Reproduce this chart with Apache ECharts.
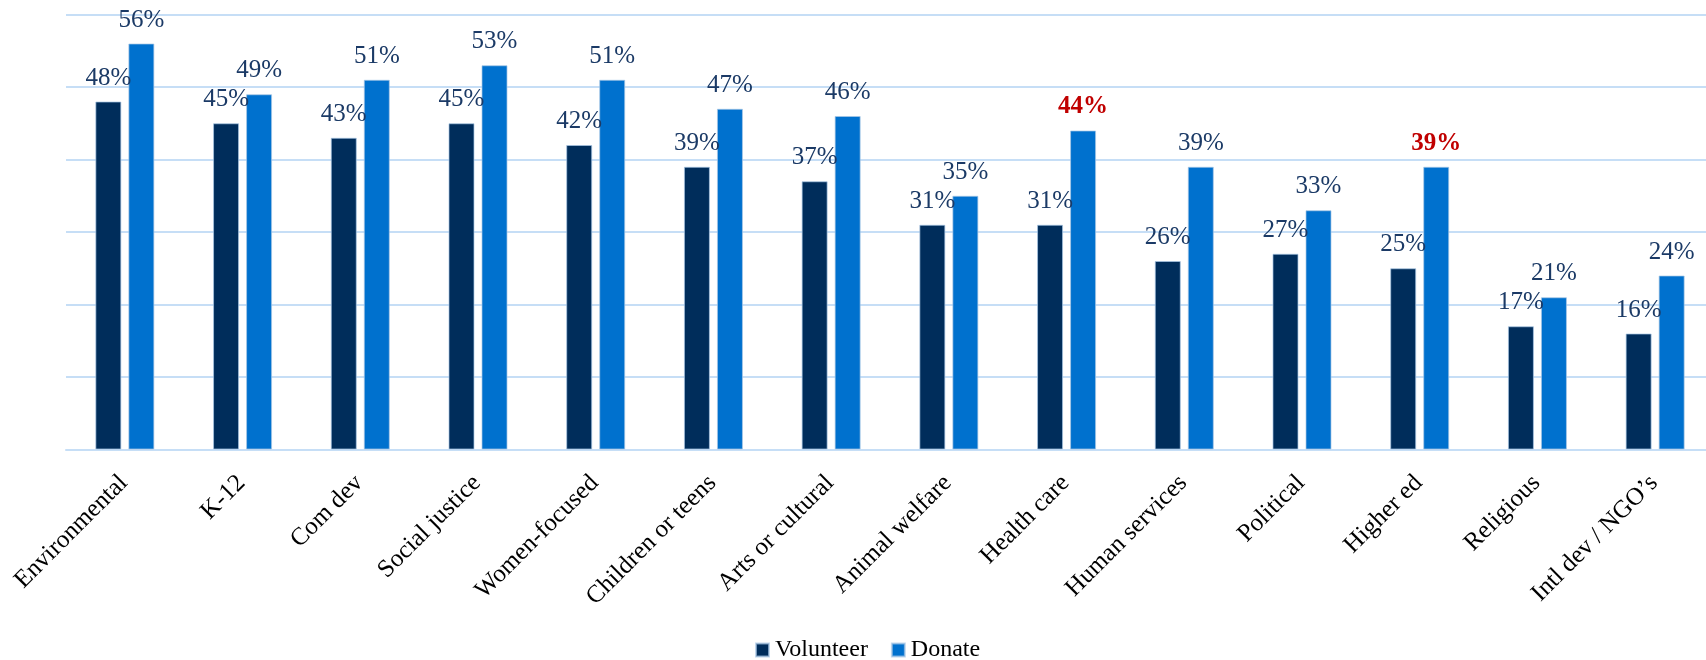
<!DOCTYPE html>
<html>
<head>
<meta charset="utf-8">
<script src="https://cdn.jsdelivr.net/npm/echarts@6/dist/echarts.min.js"></script>
<style>
  html, body { margin: 0; padding: 0; background: #ffffff; overflow: hidden; }
  #chart { width: 1714px; height: 660px; }
</style>
</head>
<body>
<div id="chart"></div>
<script>
// Cause areas, in the order shown along the axis
const categories = [
  'Environmental', 'K-12', 'Com dev', 'Social justice', 'Women-focused',
  'Children or teens', 'Arts or cultural', 'Animal welfare', 'Health care',
  'Human services', 'Political', 'Higher ed', 'Religious', 'Intl dev / NGO\u2019s'
];
// Share of respondents (%)
const volunteer = [48, 45, 43, 45, 42, 39, 37, 31, 31, 26, 27, 25, 17, 16];
const donate    = [56, 49, 51, 53, 51, 47, 46, 35, 44, 39, 33, 39, 21, 24];
// Donate values called out in red
const highlighted = ['Health care', 'Higher ed'];

const SERIF = '"Liberation Serif", "DejaVu Serif", serif';
const NAVY = '#002D5B';
const BLUE = '#0071CE';
const GRID = '#C6DEF6';
const LABEL = '#1B3A66';

const valueLabel = {
  show: true,
  position: 'top',
  distance: 11,
  formatter: '{c}%',
  fontFamily: SERIF,
  fontSize: 25,
  color: LABEL
};

const donateData = donate.map((v, i) => {
  if (highlighted.includes(categories[i])) {
    return { value: v, label: { color: '#C00000', fontWeight: 'bold' } };
  }
  return v;
});

const chart = echarts.init(document.getElementById('chart'), null, { renderer: 'canvas' });
chart.setOption({
  animation: false,
  backgroundColor: '#ffffff',
  grid: { left: 66, right: 0, top: 14.5, bottom: 210.5, containLabel: false },
  legend: {
    data: ['Volunteer', 'Donate'],
    left: 755,
    top: 638,
    padding: 0,
    itemWidth: 13,
    itemHeight: 13,
    itemGap: 23,
    icon: 'rect',
    textStyle: { fontFamily: SERIF, fontSize: 24, color: '#000000', padding: [0, 0, 0, 1] }
  },
  xAxis: {
    type: 'category',
    data: categories,
    axisLine: { show: true, lineStyle: { color: GRID, width: 2 } },
    axisTick: { show: false },
    axisLabel: {
      interval: 0,
      rotate: 45,
      margin: 11,
      align: 'right',
      verticalAlign: 'top',
      padding: [0, 14, 0, 0],
      fontFamily: SERIF,
      fontSize: 25,
      color: '#000000'
    }
  },
  yAxis: {
    type: 'value',
    min: 0,
    max: 60,
    interval: 10,
    axisLine: { show: false },
    axisTick: { show: false },
    axisLabel: { show: false },
    splitLine: { show: true, lineStyle: { color: GRID, width: 2 } }
  },
  series: [
    {
      name: 'Volunteer',
      type: 'bar',
      data: volunteer,
      barWidth: 26,
      barGap: '27%',
      itemStyle: { color: NAVY, borderColor: 'rgba(170,200,230,0.7)', borderWidth: 1 },
      label: valueLabel
    },
    {
      name: 'Donate',
      type: 'bar',
      data: donateData,
      barWidth: 26,
      itemStyle: { color: BLUE, borderColor: 'rgba(170,200,230,0.7)', borderWidth: 1 },
      label: valueLabel
    }
  ]
});
</script>
</body>
</html>
